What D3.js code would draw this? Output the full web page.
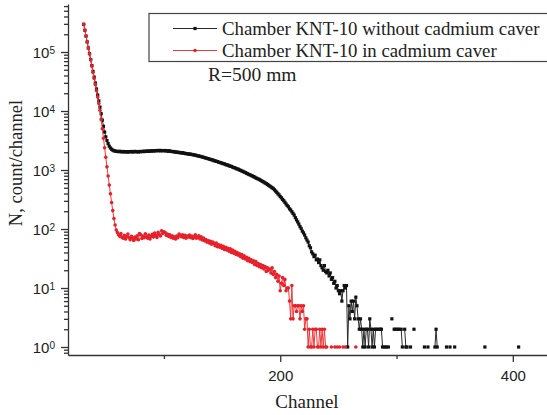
<!DOCTYPE html>
<html><head><meta charset="utf-8">
<script src="https://cdn.jsdelivr.net/npm/d3@7"></script>
<style>
html,body{margin:0;padding:0;background:#fff;}
svg{display:block;}
</style></head><body>
<svg id="chart" width="547" height="415"></svg>
<script>
// Spectra recorded channel by channel, starting at this channel
const firstChannel = 31;
const seriesNames = ["Chamber KNT-10 without cadmium caver", "Chamber KNT-10 in cadmium caver"];

// counts/channel, bare chamber (0 = empty channel)
const countsBare = [
  295000, 234000, 186000, 148000, 117000, 93500, 74500, 59000, 47000, 37500,
  29800, 23600, 18700, 14800, 11600, 9000, 7000, 5500, 4400, 3650,
  3150, 2800, 2530, 2360, 2250, 2170, 2120, 2100, 2070, 2060,
  2050, 2080, 2040, 2030, 2060, 2020, 2050, 2040, 2010, 2050,
  2030, 2060, 2020, 2040, 2070, 2030, 2050, 2020, 2060, 2040,
  2070, 2050, 2090, 2060, 2080, 2100, 2070, 2110, 2090, 2120,
  2100, 2130, 2110, 2140, 2120, 2150, 2110, 2140, 2130, 2120,
  2140, 2100, 2120, 2080, 2110, 2070, 2050, 2060, 2020, 2030,
  1990, 2010, 1970, 1980, 1940, 1960, 1930, 1920, 1890, 1890,
  1870, 1850, 1860, 1830, 1820, 1790, 1790, 1760, 1740, 1730,
  1700, 1690, 1660, 1640, 1620, 1600, 1570, 1560, 1530, 1510,
  1490, 1480, 1440, 1430, 1400, 1390, 1360, 1340, 1330, 1300,
  1280, 1270, 1240, 1220, 1210, 1180, 1160, 1150, 1120, 1100,
  1090, 1060, 1040, 1030, 1000, 985, 960, 945, 920, 905,
  880, 865, 840, 830, 805, 795, 770, 760, 735, 720,
  705, 690, 672, 655, 638, 622, 602, 588, 568, 552,
  535, 518, 500, 486, 462, 440, 420, 396, 378, 355,
  338, 318, 302, 284, 266, 250, 238, 220, 210, 196,
  184, 172, 156, 143, 132, 121, 110, 102, 92, 86,
  79, 71, 65, 60, 52, 48, 41, 38, 34, 36,
  30, 31, 27, 30, 24, 22, 20, 24, 19, 18,
  20, 16, 18, 14, 15, 12, 13, 10, 11, 9,
  8, 9, 6, 9, 11, 10, 11, 1, 5, 3,
  6, 4, 6, 3, 7, 5, 3, 2, 3, 2,
  1, 2, 1, 2, 2, 1, 3, 2, 1, 2,
  1, 2, 2, 0, 2, 2, 2, 1, 0, 1,
  1, 0, 1, 0, 0, 3, 0, 2, 2, 0,
  2, 2, 0, 2, 1, 0, 2, 1, 1, 0,
  0, 1, 0, 0, 2, 0, 0, 0, 0, 0,
  0, 0, 0, 1, 0, 0, 1, 0, 0, 0,
  0, 0, 1, 2, 1, 0, 0, 0, 0, 0,
  0, 0, 1, 0, 0, 1, 0, 0, 0, 1,
  0, 0, 0, 0, 0, 0, 0, 0, 0, 0,
  0, 0, 0, 0, 0, 0, 0, 0, 0, 0,
  0, 0, 0, 0, 0, 1, 0, 0, 0, 0,
  0, 0, 0, 0, 0, 0, 0, 0, 0, 0,
  0, 0, 0, 0, 0, 0, 0, 0, 0, 0,
  0, 0, 0, 0, 1
];

// counts/channel, chamber inside the cadmium cover
const countsCadmium = [
  295000, 234000, 186000, 148000, 117000, 93500, 74000, 57500, 45000, 35500,
  28000, 22000, 17200, 13400, 10300, 7200, 5000, 3450, 2380, 1640,
  1130, 790, 555, 395, 282, 205, 150, 117, 96, 87,
  80, 75, 84, 72, 70, 78, 68, 74, 82, 71,
  66, 75, 70, 64, 73, 68, 77, 66, 84, 80,
  69, 76, 71, 83, 74, 70, 79, 68, 75, 81,
  73, 85, 78, 72, 88, 80, 76, 93, 84, 90,
  87, 78, 82, 75, 80, 72, 77, 70, 74, 68,
  76, 71, 82, 78, 74, 80, 72, 78, 70, 76,
  73, 79, 71, 76, 69, 74, 80, 70, 72, 77,
  68, 74, 65, 70, 63, 66, 60, 64, 58, 62,
  55, 60, 57, 52, 58, 50, 54, 49, 53, 47,
  51, 45, 49, 44, 47, 42, 46, 40, 44, 39,
  42, 37, 40, 36, 38, 34, 37, 32, 35, 31,
  33, 29, 32, 28, 30, 27, 29, 25, 28, 24,
  26, 23, 25, 22, 24, 21, 23, 19, 22, 20,
  21, 18, 22, 17, 19, 15, 17, 13, 16, 9,
  12, 15, 11, 14, 9, 10, 10, 6, 3, 11,
  3, 5, 5, 4, 5, 5, 3, 5, 4, 5,
  2, 3, 3, 1, 2, 1, 1, 2, 1, 2,
  2, 1, 1, 2, 1, 2, 1, 2, 1, 1,
  0, 0, 0, 1, 0, 0, 1, 0, 1, 0,
  1, 0, 0, 1, 0, 1, 0, 0, 0, 0,
  0, 0, 0, 0, 1
];

const xTicksMajor = [200, 400];
const xTicksMinor = [100, 300];
const yTickExponents = [0, 1, 2, 3, 4, 5];
const xTitle = "Channel";
const yTitle = "N, count/channel";
const note = "R=500 mm";

const svg = d3.select("#chart");
const plot = {left: 68, right: 547, top: 4, bottom: 355};

const x = d3.scaleLinear().domain([17.5, 429.4]).range([plot.left, plot.right]);
const y = d3.scaleLog()
  .domain([Math.pow(10, -8 / 59), Math.pow(10, 343 / 59)])
  .range([plot.bottom, plot.top]);

const serif = "'Liberation Serif','Times New Roman',serif";
const sans = "'Liberation Sans',Arial,sans-serif";
const axisColor = "#333";

// ---- axes ----
const gx = svg.append("g").attr("transform", `translate(0,${plot.bottom})`);
gx.call(d3.axisBottom(x).tickValues(xTicksMajor).tickSize(7).tickSizeOuter(0)
  .tickPadding(8).tickFormat(d3.format("d")));
gx.append("g").call(d3.axisBottom(x).tickValues(xTicksMinor).tickSize(4).tickSizeOuter(0).tickFormat(""))
  .select(".domain").remove();
gx.selectAll("text").attr("font-family", sans).attr("font-size", 15).attr("fill", "#222");

const minorY = [];
for (let k = -1; k <= 5; k++) for (let m = 2; m <= 9; m++) {
  const v = m * Math.pow(10, k);
  if (v >= y.domain()[0] && v <= y.domain()[1]) minorY.push(v);
}
const gy = svg.append("g").attr("transform", `translate(${plot.left},0)`);
gy.call(d3.axisLeft(y).tickValues(yTickExponents.map(e => Math.pow(10, e)))
  .tickSize(7).tickSizeOuter(0).tickFormat(""));
gy.append("g").call(d3.axisLeft(y).tickValues(minorY).tickSize(4).tickSizeOuter(0).tickFormat(""))
  .select(".domain").remove();
gy.selectAll(".tick").filter(d => Math.abs(Math.log10(d) - Math.round(Math.log10(d))) < 1e-9)
  .append("text")
  .attr("x", -13).attr("dy", "0.37em").attr("text-anchor", "end")
  .attr("font-family", sans).attr("font-size", 15).attr("fill", "#222")
  .each(function(d) {
    const t = d3.select(this);
    t.append("tspan").text("10");
    t.append("tspan").attr("dy", "-0.42em").attr("font-size", 10).text(Math.round(Math.log10(d)));
  });

svg.selectAll(".domain, .tick line").attr("stroke", axisColor).attr("stroke-width", 1.3);

// ---- axis titles ----
svg.append("text").attr("x", 307).attr("y", 408).attr("text-anchor", "middle")
  .attr("font-family", serif).attr("font-size", 19).attr("fill", "#222").text(xTitle);
svg.append("text").attr("transform", "translate(22,163) rotate(-90)").attr("text-anchor", "middle")
  .attr("font-family", serif).attr("font-size", 18.5).attr("fill", "#222").text(yTitle);

// ---- series ----
const toPoints = arr => arr.map((v, i) => ({ch: firstChannel + i, v}));
const line = d3.line().defined(d => d.v > 0).x(d => x(d.ch)).y(d => y(d.v));
const series = [
  {pts: toPoints(countsBare), line: "#2a2a2a", mark: "#111", shape: "square"},
  {pts: toPoints(countsCadmium), line: "#ee3b3b", mark: "#e8202a", shape: "circle"}
];
series.forEach(s => {
  const g = svg.append("g");
  g.append("path").datum(s.pts).attr("fill", "none").attr("stroke", s.line)
    .attr("stroke-width", 1).attr("d", line);
  const pts = s.pts.filter(d => d.v > 0);
  if (s.shape === "square") {
    g.selectAll("rect").data(pts).join("rect")
      .attr("x", d => x(d.ch) - 1.6).attr("y", d => y(d.v) - 1.6)
      .attr("width", 3.2).attr("height", 3.2).attr("fill", s.mark);
  } else {
    g.selectAll("circle").data(pts).join("circle")
      .attr("cx", d => x(d.ch)).attr("cy", d => y(d.v)).attr("r", 1.8).attr("fill", s.mark);
  }
});

// ---- legend ----
const lg = svg.append("g");
lg.append("rect").attr("x", 149).attr("y", 13.5).attr("width", 402).attr("height", 48)
  .attr("fill", "#fff").attr("stroke", "#444").attr("stroke-width", 1.2);
[[28.5, series[0]], [50.5, series[1]]].forEach(([ly, s], i) => {
  lg.append("line").attr("x1", 173).attr("x2", 217).attr("y1", ly).attr("y2", ly)
    .attr("stroke", s.line).attr("stroke-width", 1);
  if (s.shape === "square") lg.append("rect").attr("x", 193.4).attr("y", ly - 1.6).attr("width", 3.2).attr("height", 3.2).attr("fill", s.mark);
  else lg.append("circle").attr("cx", 195).attr("cy", ly).attr("r", 1.8).attr("fill", s.mark);
  lg.append("text").attr("x", 222).attr("y", ly + 6).attr("font-family", serif).attr("font-size", 18.8)
    .attr("fill", "#222").text(seriesNames[i]);
});
svg.append("text").attr("x", 208).attr("y", 81).attr("font-family", serif).attr("font-size", 19.5)
  .attr("fill", "#222").text(note);
</script>
</body></html>
